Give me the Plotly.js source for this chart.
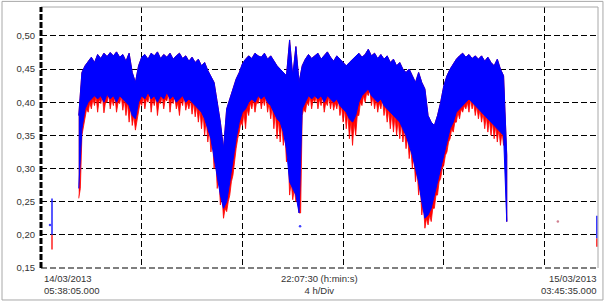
<!DOCTYPE html>
<html>
<head>
<meta charset="utf-8">
<script src="https://cdn.plot.ly/plotly-3.0.1.min.js"></script>
<style>html,body{margin:0;padding:0;background:#fff;}#chart{width:605px;height:304px;}</style>
</head>
<body>
<div id="chart"></div>
<script>
// Time axis: hours elapsed since 14/03/2013 05:38:05 (span 22:07:30)
const SPAN_HOURS = 22.125;
const DIV_HOURS = 4;
// main record: sampled every 7.5 min starting 1.5 h after start
const SAMPLE_START = 1.5;
const SAMPLE_STEP = 0.125;

// blue band upper envelope
const blueHigh = [
0.380,0.445,0.455,0.462,0.468,0.460,0.472,0.466,0.474,0.469,
0.475,0.470,0.476,0.468,0.472,0.462,0.474,0.445,0.430,0.455,
0.468,0.472,0.465,0.474,0.470,0.476,0.466,0.472,0.468,0.474,
0.465,0.470,0.474,0.466,0.470,0.462,0.468,0.460,0.465,0.455,
0.460,0.448,0.440,0.430,0.400,0.370,0.330,0.390,0.405,0.420,
0.435,0.445,0.458,0.465,0.470,0.466,0.474,0.470,0.468,0.474,
0.465,0.470,0.462,0.455,0.450,0.445,0.440,0.494,0.440,0.484,
0.430,0.455,0.465,0.472,0.466,0.470,0.474,0.465,0.470,0.476,
0.468,0.462,0.470,0.465,0.460,0.455,0.460,0.465,0.470,0.474,
0.468,0.472,0.480,0.470,0.474,0.466,0.472,0.465,0.470,0.460,
0.465,0.455,0.460,0.450,0.445,0.450,0.440,0.430,0.445,0.430,
0.420,0.380,0.370,0.365,0.380,0.400,0.425,0.440,0.450,0.458,
0.465,0.470,0.474,0.468,0.472,0.466,0.470,0.465,0.470,0.462,
0.468,0.460,0.455,0.465,0.450,0.440,0.320];
// blue band lower envelope
const blueLow = [
0.270,0.360,0.390,0.400,0.405,0.410,0.405,0.410,0.400,0.412,
0.405,0.410,0.400,0.410,0.405,0.400,0.395,0.380,0.375,0.400,
0.410,0.405,0.415,0.405,0.410,0.400,0.410,0.405,0.415,0.405,
0.410,0.400,0.405,0.410,0.400,0.405,0.400,0.395,0.390,0.385,
0.375,0.360,0.345,0.320,0.290,0.260,0.240,0.250,0.280,0.310,
0.345,0.370,0.385,0.390,0.400,0.405,0.400,0.410,0.405,0.410,
0.400,0.395,0.385,0.375,0.370,0.355,0.330,0.280,0.270,0.260,
0.233,0.390,0.400,0.410,0.405,0.410,0.405,0.410,0.400,0.410,
0.405,0.400,0.405,0.395,0.390,0.385,0.375,0.370,0.380,0.400,
0.410,0.415,0.420,0.410,0.405,0.400,0.405,0.395,0.390,0.385,
0.380,0.375,0.370,0.360,0.350,0.335,0.320,0.300,0.280,0.250,
0.225,0.230,0.240,0.260,0.280,0.300,0.320,0.340,0.360,0.370,
0.385,0.390,0.395,0.400,0.405,0.400,0.395,0.390,0.385,0.380,
0.375,0.370,0.365,0.360,0.355,0.350,0.220];
// red trace lower envelope
const redLow = [
0.255,0.350,0.375,0.385,0.390,0.395,0.385,0.398,0.384,0.400,
0.390,0.395,0.385,0.398,0.388,0.380,0.370,0.365,0.358,0.385,
0.395,0.390,0.400,0.385,0.395,0.380,0.398,0.390,0.402,0.385,
0.398,0.390,0.380,0.395,0.388,0.390,0.382,0.378,0.370,0.360,
0.350,0.340,0.325,0.300,0.270,0.245,0.225,0.235,0.260,0.290,
0.330,0.355,0.365,0.360,0.380,0.390,0.385,0.398,0.390,0.395,
0.385,0.375,0.360,0.345,0.340,0.335,0.310,0.260,0.253,0.250,
0.233,0.380,0.385,0.395,0.390,0.400,0.390,0.395,0.385,0.395,
0.390,0.388,0.390,0.380,0.370,0.360,0.345,0.335,0.350,0.380,
0.395,0.400,0.410,0.395,0.390,0.385,0.390,0.380,0.370,0.360,
0.355,0.350,0.345,0.340,0.330,0.315,0.300,0.280,0.260,0.230,
0.210,0.215,0.220,0.240,0.260,0.285,0.305,0.325,0.345,0.355,
0.370,0.375,0.385,0.390,0.385,0.390,0.380,0.375,0.370,0.360,
0.355,0.350,0.345,0.340,0.335,0.335,0.220];

// isolated short records
const isoTime = [0.437, 22.08];
const isoBlueTop = [0.255, 0.229];
const isoBlueBot = [0.200, 0.195];
const isoRedBot = [0.178, 0.182];
// single stray points
const dotTime = [0.357, 10.29, 20.53];
const dotValue = [0.215, 0.213, 0.220];

const yTicks = [0.15,0.20,0.25,0.30,0.35,0.40,0.45,0.50];
const labelLeft = "14/03/2013<br>05:38:05.000";
const labelMid = "22:07:30 (h:min:s)<br>4 h/Div";
const labelRight = "15/03/2013<br>03:45:35.000";

const times = blueHigh.map((_,i)=>SAMPLE_START + i*SAMPLE_STEP);

// red polygon: upper envelope forward, lower edge needles (min at sample, blue floor half-way)
function redBand(){
  const xs = times.slice(), ys = blueHigh.slice();
  const bx=[], by=[];
  times.forEach((t,i)=>{ bx.push(t); by.push(redLow[i]); if(i<times.length-1){ bx.push(t+SAMPLE_STEP/2); by.push(blueLow[i]); } });
  return {x: xs.concat(bx.reverse()), y: ys.concat(by.reverse())};
}
// blue polygon: upper envelope forward, lower envelope backward
function blueBand(){
  return {x: times.concat(times.slice().reverse()), y: blueHigh.concat(blueLow.slice().reverse())};
}
function verts(ts, a, b){
  const xs=[], ys=[];
  ts.forEach((t,i)=>{ xs.push(t,t,null); ys.push(a[i],b[i],null); });
  return {x:xs,y:ys};
}
const rb = redBand();
const bb = blueBand();
const rv = verts(isoTime, isoBlueBot, isoRedBot);
const bv = verts(isoTime, isoBlueTop, isoBlueBot);

const traces = [
  {x:rb.x, y:rb.y, mode:'lines', fill:'toself', fillcolor:'#ff0000', line:{color:'#ff0000', width:0.8}, hoverinfo:'skip'},
  {x:bb.x, y:bb.y, mode:'lines', fill:'toself', fillcolor:'#0000ff', line:{color:'#0000ff', width:1}, hoverinfo:'skip'},
  {x:rv.x, y:rv.y, mode:'lines', line:{color:'#ff2020', width:1.5}, connectgaps:false},
  {x:bv.x, y:bv.y, mode:'lines', line:{color:'#2020ff', width:1.5}, connectgaps:false},
  {x:dotTime, y:dotValue, mode:'markers', marker:{size:2.5, color:['#4040ff','#4040ff','#d08090']}}
];

const font = {family:'"Liberation Sans", Arial, sans-serif', size:9.5, color:'#333'};
const frameGray = '#a8a8a8';
const layout = {
  width:605, height:304,
  margin:{l:41, r:7, t:7, b:36},
  paper_bgcolor:'#fff', plot_bgcolor:'#fff',
  showlegend:false,
  separators:',.',
  font:font,
  xaxis:{range:[0, SPAN_HOURS], tick0:0, dtick:DIV_HOURS, showticklabels:false, ticks:'',
         showgrid:true, gridcolor:'#000', griddash:'6px,3px', gridwidth:1, zeroline:false, showline:false, fixedrange:true},
  yaxis:{range:[0.15, 0.5437], tickvals:yTicks, tickformat:'.2f', ticks:'', ticklabelstandoff:5,
         showgrid:true, gridcolor:'#000', griddash:'6px,3px', gridwidth:1, zeroline:false, showline:false,
         tickfont:font, fixedrange:true},
  shapes:[
    {type:'rect', xref:'paper', yref:'paper', x0:-0.07, x1:1.0089, y0:-0.1226, y1:1.0215, line:{color:frameGray, width:1}, layer:'above'},
    {type:'line', xref:'paper', yref:'paper', x0:0, x1:1, y0:1, y1:1, line:{color:frameGray, width:1}, layer:'above'},
    {type:'line', xref:'paper', yref:'paper', x0:1, x1:1, y0:0, y1:1, line:{color:frameGray, width:1}, layer:'above'},
    {type:'line', xref:'paper', yref:'paper', x0:0, x1:1, y0:0, y1:0, line:{color:'#000', width:1.2, dash:'6px,3px'}, layer:'above'},
    {type:'line', xref:'paper', yref:'paper', x0:0, x1:0, y0:0, y1:1, line:{color:'#000', width:3, dash:'6px,2px'}, layer:'above'}
  ],
  annotations:[
    {xref:'paper', yref:'paper', x:0.002, y:0, xanchor:'left', yanchor:'top', yshift:-3, align:'left', showarrow:false, text:labelLeft, font:font},
    {xref:'paper', yref:'paper', x:0.5, y:0, xanchor:'center', yanchor:'top', yshift:-3, align:'center', showarrow:false, text:labelMid, font:font},
    {xref:'paper', yref:'paper', x:1, y:0, xanchor:'right', yanchor:'top', yshift:-3, align:'right', showarrow:false, text:labelRight, font:font}
  ]
};
Plotly.newPlot('chart', traces, layout, {displayModeBar:false, staticPlot:true});
</script>
</body>
</html>
